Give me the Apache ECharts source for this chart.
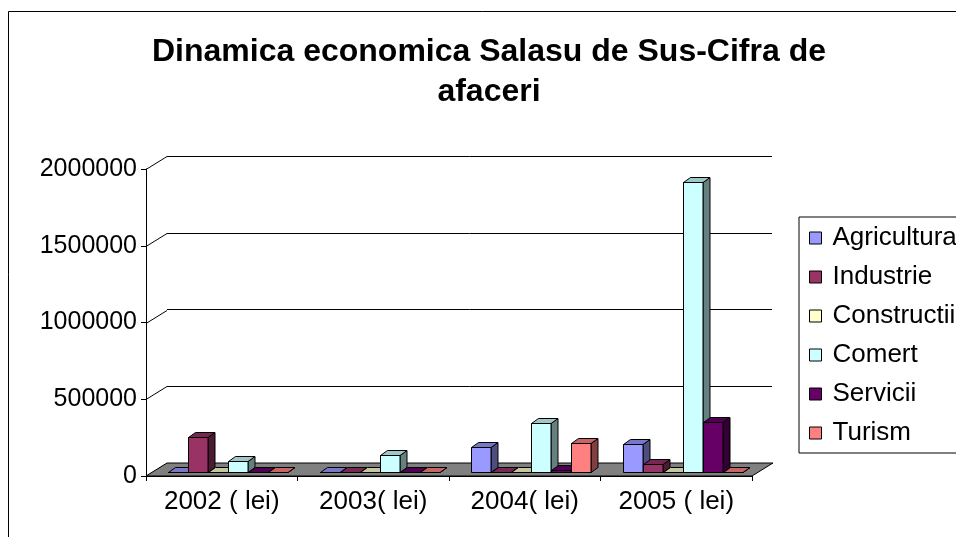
<!DOCTYPE html>
<html>
<head>
<meta charset="utf-8">
<script src="https://cdn.jsdelivr.net/npm/echarts@6/dist/echarts.min.js"></script>
<style>
  html, body { margin: 0; padding: 0; background: #fff; }
  #chart { width: 956px; height: 537px; }
</style>
</head>
<body>
<div id="chart"></div>
<script>
// Salasu de Sus - cifra de afaceri pe sectoare (lei)
const categories = ['2002 ( lei)', '2003( lei)', '2004( lei)', '2005 ( lei)'];
const agricultura = [0, 0, 160000, 180000];
const industrie = [230000, 0, 0, 55000];
const constructii = [0, 0, 0, 0];
const comert = [70000, 110000, 320000, 1890000];
const servicii = [0, 0, 15000, 325000];
const turism = [0, 0, 190000, 0];
const yTicks = [0, 500000, 1000000, 1500000, 2000000];

const sectors = [
  { name: 'Agricultura', values: agricultura, color: '#9999FF' },
  { name: 'Industrie', values: industrie, color: '#993366' },
  { name: 'Constructii', values: constructii, color: '#FFFFCC' },
  { name: 'Comert', values: comert, color: '#CCFFFF' },
  { name: 'Servicii', values: servicii, color: '#660066' },
  { name: 'Turism', values: turism, color: '#FF8080' }
];

const FONT = '"Liberation Sans", Arial, sans-serif';
// oblique depth of the floor / walls, and of each bar
const WALL_DX = 21, WALL_DY = 13;
const BAR_SHIFT_X = 6.5, BAR_SHIFT_Y = 4;
const BAR_DX = 7, BAR_DY = 5;
const BAR_FRAC = 0.132;

function shade(hex, f) {
  const n = parseInt(hex.slice(1), 16);
  const r = Math.round(((n >> 16) & 255) * f);
  const g = Math.round(((n >> 8) & 255) * f);
  const b = Math.round((n & 255) * f);
  return 'rgb(' + r + ',' + g + ',' + b + ')';
}

function barRenderer(idx, color) {
  return function (params, api) {
    const cat = api.value(0);
    const v = api.value(1);
    const band = api.size([1, 0])[0];
    const base = api.coord([cat, 0]);
    const top = api.coord([cat, v]);
    const w = band * BAR_FRAC;
    const x0 = Math.round(base[0] - 3 * w + idx * w + BAR_SHIFT_X) + 0.5;
    const x1 = Math.round(x0 + w);
    const yb = Math.round(base[1] - BAR_SHIFT_Y) + 0.5;
    const yt = Math.round(top[1] - BAR_SHIFT_Y) + 0.5;
    const stroke = { stroke: '#000', lineWidth: 1 };
    return {
      type: 'group',
      children: [
        {
          type: 'polygon',
          shape: { points: [[x1, yt], [x1 + BAR_DX, yt - BAR_DY], [x1 + BAR_DX, yb - BAR_DY], [x1, yb]] },
          style: Object.assign({ fill: shade(color, 0.5) }, stroke)
        },
        {
          type: 'polygon',
          shape: { points: [[x0, yt], [x1, yt], [x1 + BAR_DX, yt - BAR_DY], [x0 + BAR_DX, yt - BAR_DY]] },
          style: Object.assign({ fill: shade(color, 0.78) }, stroke)
        },
        {
          type: 'rect',
          shape: { x: x0, y: yt, width: x1 - x0, height: yb - yt },
          style: Object.assign({ fill: color }, stroke)
        }
      ]
    };
  };
}

const chart = echarts.init(document.getElementById('chart'), null, { renderer: 'canvas' });

const series = [
  {
    // floor
    type: 'custom',
    name: 'floor',
    xAxisIndex: 0,
    yAxisIndex: 0,
    silent: true,
    z: 1,
    data: [[0, 0]],
    renderItem: function (params, api) {
      const cs = params.coordSys;
      const y = api.coord([0, 0])[1];
      return {
        type: 'polygon',
        shape: {
          points: [
            [cs.x, y], [cs.x + cs.width, y],
            [cs.x + cs.width + WALL_DX, y - WALL_DY], [cs.x + WALL_DX, y - WALL_DY]
          ]
        },
        style: { fill: '#808080', stroke: '#000', lineWidth: 1 }
      };
    }
  },
  {
    // connectors from the front axis ticks to the back wall gridlines
    type: 'custom',
    name: 'wall',
    xAxisIndex: 0,
    yAxisIndex: 0,
    silent: true,
    z: 0,
    data: yTicks.map(function (v) { return [0, v]; }),
    renderItem: function (params, api) {
      const x = params.coordSys.x;
      const y = Math.round(api.coord([0, api.value(1)])[1]) + 0.5;
      return {
        type: 'line',
        shape: { x1: x, y1: y, x2: x + WALL_DX, y2: y - WALL_DY },
        style: { stroke: '#000', lineWidth: 1 }
      };
    }
  }
];

sectors.forEach(function (s, idx) {
  series.push({
    type: 'custom',
    name: s.name,
    xAxisIndex: 0,
    yAxisIndex: 0,
    z: 3,
    itemStyle: { color: s.color },
    encode: { x: 0, y: 1 },
    data: s.values.map(function (v, i) { return [i, v]; }),
    renderItem: barRenderer(idx, s.color)
  });
});

chart.setOption({
  animation: false,
  backgroundColor: '#fff',
  textStyle: { fontFamily: FONT },
  graphic: [
    {
      type: 'polyline',
      silent: true,
      shape: { points: [[8.5, 537], [8.5, 11.5], [956, 11.5]] },
      style: { stroke: '#000', lineWidth: 1, fill: null }
    },
    {
      type: 'text',
      silent: true,
      x: 489,
      y: 52,
      style: {
        text: 'Dinamica economica Salasu de Sus-Cifra de',
        font: 'bold 32px ' + FONT,
        fill: '#000',
        align: 'center',
        verticalAlign: 'middle'
      }
    },
    {
      type: 'text',
      silent: true,
      x: 489,
      y: 92,
      style: {
        text: 'afaceri',
        font: 'bold 32px ' + FONT,
        fill: '#000',
        align: 'center',
        verticalAlign: 'middle'
      }
    }
  ],
  legend: {
    orient: 'vertical',
    left: 799,
    top: 217,
    padding: [8, 40, 7, 10],
    itemWidth: 12,
    itemHeight: 12,
    itemGap: 13,
    icon: 'rect',
    borderColor: '#000',
    borderWidth: 1,
    itemStyle: { borderColor: '#000', borderWidth: 1 },
    textStyle: { fontSize: 26, color: '#000', fontFamily: FONT, padding: [0, 0, 0, 6] },
    data: sectors.map(function (s) { return s.name; })
  },
  grid: [
    { left: 146, right: 204, top: 169, bottom: 61 },
    { left: 167, right: 184, top: 156, bottom: 74 }
  ],
  xAxis: [
    {
      type: 'category',
      gridIndex: 0,
      data: categories,
      axisLine: { show: true, lineStyle: { color: '#000', width: 1 } },
      axisTick: { show: true, length: 5, lineStyle: { color: '#000' } },
      axisLabel: { fontSize: 26, color: '#000', margin: 13, fontFamily: FONT },
      splitLine: { show: false }
    },
    {
      type: 'category',
      gridIndex: 1,
      data: categories,
      axisLine: { show: false },
      axisTick: { show: false },
      axisLabel: { show: false },
      splitLine: { show: false }
    }
  ],
  yAxis: [
    {
      type: 'value',
      gridIndex: 0,
      min: 0,
      max: 2000000,
      interval: 500000,
      axisLine: { show: true, lineStyle: { color: '#000', width: 1 } },
      axisTick: { show: true, length: 5, lineStyle: { color: '#000' } },
      axisLabel: {
        fontSize: 25, color: '#000', margin: 9, fontFamily: FONT,
        formatter: function (v) { return String(v); }
      },
      splitLine: { show: false }
    },
    {
      type: 'value',
      gridIndex: 1,
      min: 0,
      max: 2000000,
      interval: 500000,
      axisLine: { show: false },
      axisTick: { show: false },
      axisLabel: { show: false },
      splitLine: { show: true, lineStyle: { color: '#000', width: 1 } }
    }
  ],
  series: series
});
</script>
</body>
</html>
